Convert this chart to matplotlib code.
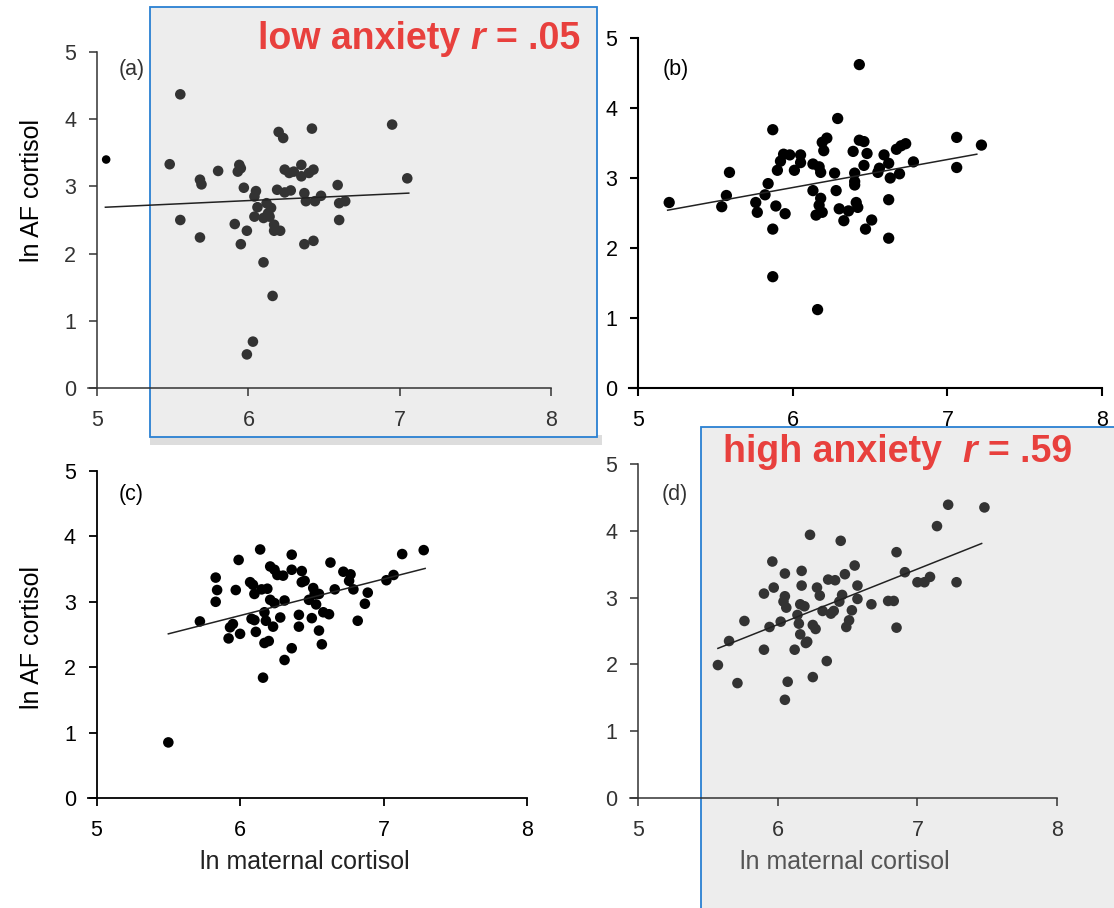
import matplotlib.pyplot as plt
from matplotlib.patches import Rectangle

plt.rcParams['font.family'] = ['Liberation Sans', 'DejaVu Sans']

W, H = 1114, 908
RED = '#e8403d'
BLUE = '#2a80d2'

# (a) low anxiety
a_x = [5.55, 5.48, 5.55, 5.68, 5.69, 5.68, 5.80, 5.94, 5.95, 5.93, 5.97, 5.91, 5.99, 5.95,
       6.05, 6.04, 6.06, 6.04, 6.10, 6.12, 6.13, 6.15, 6.14, 6.10, 6.16, 6.03, 5.99, 6.17,
       6.17, 6.21, 6.20, 6.23, 6.19, 6.24, 6.28, 6.24, 6.27, 6.30, 6.35, 6.35, 6.40, 6.43,
       6.42, 6.37, 6.38, 6.44, 6.48, 6.37, 6.43, 6.59, 6.60, 6.64, 6.60, 6.95, 7.05]
a_y = [4.37, 3.33, 2.50, 3.10, 3.03, 2.24, 3.23, 3.32, 3.27, 3.22, 2.98, 2.44, 2.34, 2.14,
       2.93, 2.85, 2.69, 2.55, 2.53, 2.75, 2.60, 2.68, 2.55, 1.87, 1.37, 0.69, 0.50, 2.43,
       2.34, 2.34, 3.81, 3.72, 2.95, 2.91, 2.94, 3.25, 3.20, 3.22, 3.32, 3.15, 3.20, 3.25,
       3.86, 2.90, 2.78, 2.78, 2.86, 2.14, 2.19, 3.02, 2.75, 2.78, 2.50, 3.92, 3.12]
a_out_x = [5.06]
a_out_y = [3.40]
a_fit_x = [5.055, 7.06]
a_fit_y = [2.69, 2.90]

# (b)
b_x = [5.20, 5.54, 5.57, 5.59, 5.76, 5.77, 5.82, 5.84, 5.87, 5.89, 5.87, 5.87, 5.95, 5.90,
       5.92, 5.94, 5.98, 6.01, 6.05, 6.05, 6.13, 6.17, 6.18, 6.13, 6.18, 6.17, 6.19, 6.15,
       6.16, 6.19, 6.22, 6.20, 6.27, 6.28, 6.29, 6.30, 6.33, 6.36, 6.39, 6.40, 6.40, 6.40,
       6.41, 6.42, 6.43, 6.43, 6.46, 6.46, 6.48, 6.51, 6.47, 6.55, 6.56, 6.59, 6.62, 6.63,
       6.62, 6.62, 6.69, 6.67, 6.70, 6.73, 6.78, 7.06, 7.06, 7.22]
b_y = [2.65, 2.59, 2.75, 3.08, 2.65, 2.51, 2.76, 2.92, 3.69, 2.60, 2.27, 1.59, 2.49, 3.11,
       3.24, 3.34, 3.33, 3.11, 3.22, 3.33, 3.20, 3.16, 3.08, 2.82, 2.71, 2.61, 2.51, 2.47,
       1.12, 3.51, 3.57, 3.39, 3.07, 2.82, 3.85, 2.56, 2.39, 2.53, 3.38, 3.07, 2.95, 2.90,
       2.65, 2.58, 4.62, 3.54, 3.52, 3.18, 3.35, 2.40, 2.27, 3.08, 3.14, 3.33, 3.21, 3.00,
       2.69, 2.14, 3.06, 3.41, 3.46, 3.49, 3.23, 3.58, 3.15, 3.47]
b_fit_x = [5.19, 7.19]
b_fit_y = [2.54, 3.34]

# (c)
c_x = [5.50, 5.72, 5.83, 5.84, 5.83, 5.92, 5.93, 5.95, 6.00, 5.97, 5.99, 6.07, 6.09, 6.10,
       6.08, 6.10, 6.11, 6.14, 6.15, 6.17, 6.18, 6.17, 6.20, 6.16, 6.19, 6.21, 6.21, 6.24,
       6.23, 6.24, 6.26, 6.30, 6.28, 6.31, 6.31, 6.36, 6.36, 6.36, 6.41, 6.41, 6.43, 6.43,
       6.45, 6.48, 6.50, 6.51, 6.52, 6.53, 6.55, 6.55, 6.57, 6.58, 6.62, 6.63, 6.66, 6.72,
       6.76, 6.77, 6.79, 6.82, 6.87, 6.89, 7.02, 7.07, 7.13, 7.28]
c_y = [0.85, 2.70, 3.37, 3.18, 3.00, 2.44, 2.61, 2.66, 2.51, 3.18, 3.64, 3.30, 3.26, 3.12,
       2.74, 2.72, 2.54, 3.80, 3.19, 2.84, 2.71, 2.37, 2.40, 1.84, 3.20, 3.54, 3.03, 2.98,
       2.62, 3.49, 3.41, 3.40, 2.76, 3.02, 2.11, 3.72, 3.49, 2.29, 2.80, 2.62, 3.47, 3.30,
       3.32, 3.03, 2.75, 3.21, 3.12, 2.96, 3.12, 2.56, 2.35, 2.84, 2.81, 3.60, 3.19, 3.46,
       3.32, 3.42, 3.19, 2.71, 2.97, 3.14, 3.33, 3.41, 3.73, 3.79]
c_fit_x = [5.50, 7.29]
c_fit_y = [2.51, 3.51]

# (d) high anxiety
d_x = [5.57, 5.65, 5.71, 5.76, 5.90, 5.90, 5.94, 5.97, 5.96, 6.02, 6.04, 6.05, 6.06, 6.05,
       6.07, 6.05, 6.12, 6.14, 6.15, 6.16, 6.16, 6.19, 6.17, 6.17, 6.20, 6.21, 6.23, 6.25,
       6.25, 6.27, 6.28, 6.30, 6.32, 6.36, 6.41, 6.35, 6.38, 6.40, 6.45, 6.44, 6.46, 6.48,
       6.49, 6.51, 6.53, 6.55, 6.57, 6.57, 6.67, 6.79, 6.83, 6.85, 6.85, 6.91, 7.00, 7.05,
       7.09, 7.14, 7.22, 7.28, 7.48]
d_y = [1.99, 2.35, 1.72, 2.65, 2.22, 3.06, 2.56, 3.15, 3.54, 2.64, 2.94, 3.02, 2.85, 3.36,
       1.74, 1.47, 2.22, 2.74, 2.61, 2.45, 2.90, 2.87, 3.40, 3.18, 2.32, 2.34, 3.94, 1.81,
       2.59, 2.53, 3.15, 3.03, 2.80, 3.27, 3.26, 2.05, 2.76, 2.80, 3.85, 2.94, 3.04, 3.35,
       2.56, 2.66, 2.81, 3.48, 3.18, 2.98, 2.90, 2.95, 2.95, 2.55, 3.68, 3.38, 3.23, 3.23,
       3.31, 4.07, 4.39, 3.23, 4.35]
d_fit_x = [5.57, 7.46]
d_fit_y = [2.24, 3.81]

x_ticks = [5, 6, 7, 8]
y_ticks = [0, 1, 2, 3, 4, 5]
y_label = 'ln AF cortisol'
x_label = 'ln maternal cortisol'


def fig_rect(left, top, right, bottom):
    # pixel box -> figure fraction [l, b, w, h]
    return [left / W, 1 - bottom / H, (right - left) / W, (bottom - top) / H]


fig = plt.figure(figsize=(W / 100, H / 100), dpi=100)

# highlight boxes behind the low / high anxiety panels
fig.add_artist(Rectangle((150 / W, 1 - 445 / H), 452 / W, 10 / H, transform=fig.transFigure,
                         fc='#dddddd', ec='none', zorder=-2))
fig.add_artist(Rectangle((150 / W, 1 - 437 / H), 447 / W, 430 / H, transform=fig.transFigure,
                         fc='#ededed', ec=BLUE, lw=1.3, zorder=-1))
fig.add_artist(Rectangle((701 / W, 1 - 915 / H), 430 / W, 488 / H, transform=fig.transFigure,
                         fc='#ededed', ec=BLUE, lw=1.3, zorder=-1))


def panel(rect, xs, ys, fx, fy, tag, tag_xy, color, size, lw):
    ax = fig.add_axes(fig_rect(*rect))
    ax.set_zorder(1)
    ax.patch.set_visible(False)
    ax.set_xlim(4.94, 8)
    ax.set_ylim(0, 5)
    for s in ['top', 'right']:
        ax.spines[s].set_visible(False)
    ax.spines['left'].set_position(('data', 5))
    for s in ['left', 'bottom']:
        ax.spines[s].set_color(color)
        ax.spines[s].set_linewidth(lw)
    ax.set_xticks(x_ticks)
    ax.set_yticks(y_ticks)
    ax.tick_params(direction='out', length=6, width=lw, colors=color, labelsize=15.5)
    ax.tick_params(axis='x', pad=10)
    ax.tick_params(axis='y', pad=9)
    ax.scatter(xs, ys, s=size, color=color, edgecolors='none', clip_on=False)
    ax.plot(fx, fy, color='#222222', lw=1.1)
    ax.text(tag_xy[0], tag_xy[1], tag, fontsize=15.5, color=color, ha='center', va='center')
    return ax


ax_a = panel((88, 52, 551, 388), a_x, a_y, a_fit_x, a_fit_y, '(a)', (5.23, 4.74),
             '#333333', 58, 1.1)
ax_a.scatter(a_out_x, a_out_y, s=38, color='black', edgecolors='none')
ax_a.set_ylabel(y_label, fontsize=18, va='center')
ax_a.yaxis.set_label_coords(-0.121, 0.589)

ax_b = panel((629, 38, 1102, 388), b_x, b_y, b_fit_x, b_fit_y, '(b)', (5.24, 4.55),
             '#000000', 66, 1.5)

ax_c = panel((88, 471, 527, 798), c_x, c_y, c_fit_x, c_fit_y, '(c)', (5.24, 4.64),
             '#000000', 58, 1.3)
ax_c.set_ylabel(y_label, fontsize=18, va='center')
ax_c.yaxis.set_label_coords(-0.128, 0.49)
ax_c.set_xlabel(x_label, fontsize=18, va='center', color='#222222')
ax_c.xaxis.set_label_coords(0.493, -0.195)

ax_d = panel((630, 464, 1057, 798), d_x, d_y, d_fit_x, d_fit_y, '(d)', (5.26, 4.55),
             '#333333', 58, 1.1)
ax_d.set_xlabel(x_label, fontsize=18, va='center', color='#555555')
ax_d.xaxis.set_label_coords(0.502, -0.192)

# red annotations, pieced together so that r can be italic
renderer = fig.canvas.get_renderer()
space = 0.278 * 27 * 100 / 72


def red_text(parts, x0, base):
    x = x0
    for s, style, gap in parts:
        t = fig.text(x / W, 1 - base / H, s, color=RED, fontsize=27, fontweight='bold',
                     fontstyle=style, ha='left', va='baseline', zorder=5)
        bb = t.get_window_extent(renderer)
        x = bb.x1 + gap * space


red_text([('low anxiety', 'normal', 1), ('r', 'italic', 1), ('= .05', 'normal', 0)], 258, 49)
red_text([('high anxiety', 'normal', 2), ('r', 'italic', 1), ('= .59', 'normal', 0)], 723, 462)

fig.savefig('out.png', dpi=100)
